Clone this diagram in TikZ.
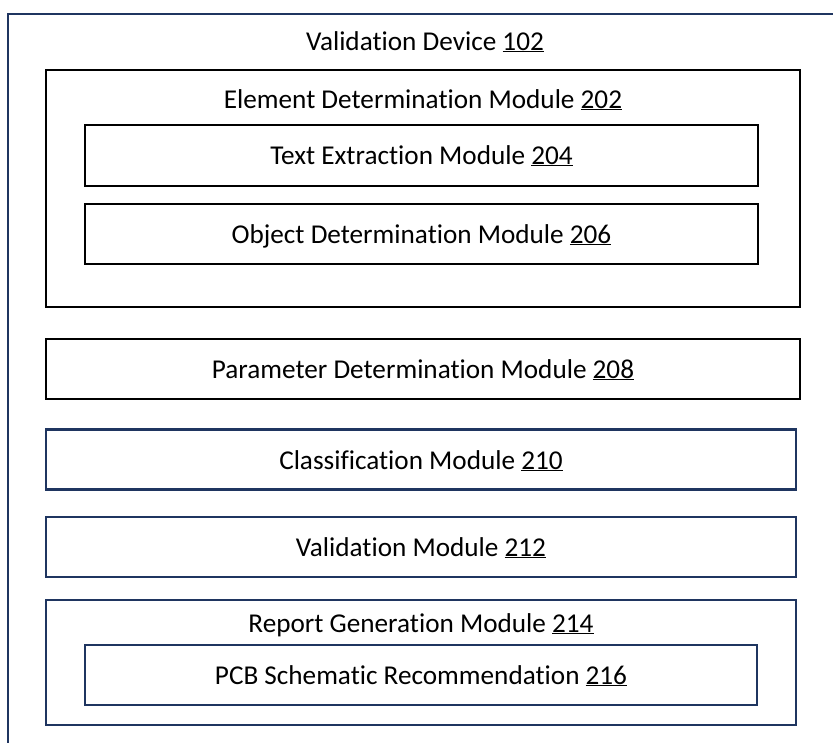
\documentclass[tikz,border=0pt]{standalone}
\usepackage{fontspec}
\setmainfont{Carlito}[Ligatures={NoCommon}]
\definecolor{navy}{HTML}{1F3560}
\begin{document}
\begin{tikzpicture}[x=1pt,y=-1pt,
  blackbox/.style={draw=black, line width=2.8pt, inner sep=0pt},
  navybox/.style={draw=navy, line width=2.3pt, inner sep=0pt},
  lbl/.style={font=\fontsize{27.2}{32}\selectfont, text=black, inner sep=0pt, anchor=base}]
\useasboundingbox (0,0) rectangle (833,742);
\clip (0,0) rectangle (833,742);
\fill[white] (0,0) rectangle (833,742);
% outer device box, running past the right and bottom edges
\draw[navy, line width=2.3pt] (8,760) -- (8,14) -- (850,14);
\node[lbl] (t102) at (425,50) {Validation Device \underline{102}};
% element determination
\node[blackbox, minimum width=754pt, minimum height=237pt] (m202) at (423,188.5) {};
\node[lbl] (t202) at (423,108) {Element Determination Module \underline{202}};
\node[blackbox, minimum width=673pt, minimum height=61pt] (m204) at (421.5,155.5) {};
\node[lbl] (t204) at (421.5,164) {Text Extraction Module \underline{204}};
\node[blackbox, minimum width=673pt, minimum height=60pt] (m206) at (421.5,234) {};
\node[lbl] (t206) at (421.5,243) {Object Determination Module \underline{206}};
% parameter
\node[blackbox, minimum width=754pt, minimum height=60pt] (m208) at (423,369) {};
\node[lbl] (t208) at (423,378) {Parameter Determination Module \underline{208}};
% classification
\node[navybox, minimum width=750pt, minimum height=60pt] (m210) at (421,459.5) {};
\node[lbl] (t210) at (421,469) {Classification Module \underline{210}};
% validation
\node[navybox, minimum width=750pt, minimum height=60pt] (m212) at (421,547) {};
\node[lbl] (t212) at (421,556) {Validation Module \underline{212}};
% report
\node[navybox, minimum width=750pt, minimum height=125pt] (m214) at (421,662.5) {};
\node[lbl] (t214) at (421,632) {Report Generation Module \underline{214}};
\node[navybox, minimum width=672pt, minimum height=60pt] (m216) at (421,675) {};
\node[lbl] (t216) at (421,684) {PCB Schematic Recommendation \underline{216}};
\end{tikzpicture}
\end{document}
